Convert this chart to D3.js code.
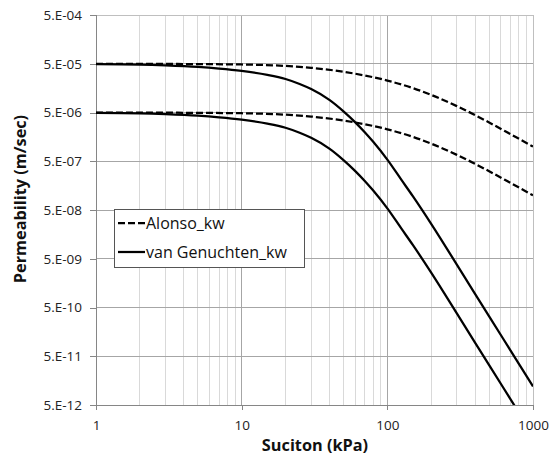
<!DOCTYPE html>
<html><head><meta charset="utf-8">
<script src="https://cdn.jsdelivr.net/npm/d3@7"></script>
<style>body{margin:0;background:#fff}svg{display:block}</style>
</head><body><svg id="c" width="549" height="461"></svg>
<script>
// ---- data ----
const suctionAlonso = [1, 5, 10, 20, 30, 50, 70, 100, 150, 200, 300, 500, 700, 1000];
const alonsoUpper = [5.0e-5, 4.92e-5, 4.83e-5, 4.51e-5, 4.13e-5, 3.42e-5, 2.87e-5, 2.26e-5, 1.58e-5, 1.15e-5, 6.76e-6, 3.12e-6, 1.8e-6, 1.0e-6];
const alonsoLower = [5.0e-6, 4.92e-6, 4.83e-6, 4.51e-6, 4.13e-6, 3.42e-6, 2.87e-6, 2.26e-6, 1.58e-6, 1.15e-6, 6.76e-7, 3.12e-7, 1.8e-7, 1.0e-7];
const suctionVG = [1, 2, 3, 5, 7, 10, 15, 20, 25, 30, 40, 50, 60, 70, 80, 100, 125, 150, 200, 300, 400, 500, 700, 1000];
const vgUpper = [4.9e-5, 4.8e-5, 4.63e-5, 4.31e-5, 3.99e-5, 3.57e-5, 2.96e-5, 2.43e-5, 1.92e-5, 1.51e-5, 9.07e-6, 5.28e-6, 3.18e-6, 1.97e-6, 1.25e-6, 5.4e-7, 2.07e-7, 9.5e-8, 2.6e-8, 3.79e-9, 9.5e-10, 3.3e-10, 6.6e-11, 1.2e-11];
const vgLower = [4.9e-6, 4.8e-6, 4.63e-6, 4.31e-6, 3.99e-6, 3.57e-6, 2.96e-6, 2.43e-6, 1.92e-6, 1.51e-6, 9.07e-7, 5.28e-7, 3.18e-7, 1.97e-7, 1.25e-7, 5.4e-8, 2.07e-8, 9.5e-9, 2.6e-9, 3.79e-10, 9.5e-11, 3.3e-11, 6.6e-12, 1.2e-12];
const yTickValues = [5e-12, 5e-11, 5e-10, 5e-9, 5e-8, 5e-7, 5e-6, 5e-5, 5e-4];
const yTickLabels = ["5.E-12", "5.E-11", "5.E-10", "5.E-09", "5.E-08", "5.E-07", "5.E-06", "5.E-05", "5.E-04"];
const xTickValues = [1, 10, 100, 1000];
const xTickLabels = ["1", "10", "100", "1000"];
const legendLabels = ["Alonso_kw", "van Genuchten_kw"];
const xTitle = "Suciton (kPa)";
const yTitle = "Permeability (m/sec)";

// ---- layout ----
const L = 96, R = 533, T = 15, B = 405;
const svg = d3.select("#c");
const x = d3.scaleLog().domain([1, 1000]).range([L, R]);
const y = d3.scaleLog().domain([5e-12, 5e-4]).range([B, T]);
const font = "'Open Sans', Lato, sans-serif";

// minor vertical grid
const minor = [];
[1, 10, 100].forEach(d => { for (let i = 2; i <= 9; i++) minor.push(d * i); });
svg.append("g").selectAll("line").data(minor).join("line")
  .attr("x1", d => x(d)).attr("x2", d => x(d)).attr("y1", T).attr("y2", B)
  .attr("stroke", "#d9d9d9").attr("stroke-width", 1).attr("shape-rendering", "crispEdges");
// major vertical grid
svg.append("g").selectAll("line").data(xTickValues).join("line")
  .attr("x1", d => x(d)).attr("x2", d => x(d)).attr("y1", T).attr("y2", B)
  .attr("stroke", "#a6a6a6").attr("stroke-width", 1).attr("shape-rendering", "crispEdges");
// horizontal grid
svg.append("g").selectAll("line").data(yTickValues).join("line")
  .attr("x1", L).attr("x2", R).attr("y1", d => y(d)).attr("y2", d => y(d))
  .attr("stroke", "#a6a6a6").attr("stroke-width", 1).attr("shape-rendering", "crispEdges");
// plot border
svg.append("rect").attr("x", L).attr("y", T).attr("width", R - L).attr("height", B - T)
  .attr("fill", "none").attr("stroke", "#bfbfbf").attr("shape-rendering", "crispEdges");

// axes
const ya = svg.append("g").attr("transform", `translate(${L},0)`)
  .call(d3.axisLeft(y).tickValues(yTickValues).tickFormat((d, i) => yTickLabels[i]).tickSize(6).tickPadding(8));
const xa = svg.append("g").attr("transform", `translate(0,${B})`)
  .call(d3.axisBottom(x).tickValues(xTickValues).tickFormat((d, i) => xTickLabels[i]).tickSize(5).tickPadding(10));
[ya, xa].forEach(g => {
  g.select(".domain").attr("stroke", "#868686").attr("shape-rendering", "crispEdges");
  g.selectAll(".tick line").attr("stroke", "#868686").attr("shape-rendering", "crispEdges");
  g.selectAll(".tick text").attr("font-family", font).attr("font-size", 13.5).attr("fill", "#222");
});

// clip
svg.append("clipPath").attr("id", "clip").append("rect")
  .attr("x", L).attr("y", T).attr("width", R - L).attr("height", B - T);

const line = d3.line().x(d => x(d[0])).y(d => y(d[1])).curve(d3.curveMonotoneX);
const plot = svg.append("g").attr("clip-path", "url(#clip)");
[alonsoUpper, alonsoLower].forEach(s => {
  plot.append("path").datum(suctionAlonso.map((v, i) => [v, s[i]]))
    .attr("d", line).attr("fill", "none").attr("stroke", "#000").attr("stroke-width", 2.25)
    .attr("stroke-dasharray", "7,3");
});
[vgUpper, vgLower].forEach(s => {
  plot.append("path").datum(suctionVG.map((v, i) => [v, s[i]]))
    .attr("d", line).attr("fill", "none").attr("stroke", "#000").attr("stroke-width", 2.25);
});

// titles
svg.append("text").attr("x", 315).attr("y", 451).attr("text-anchor", "middle")
  .attr("font-family", font).attr("font-weight", "bold").attr("font-size", 16.3).attr("fill", "#111").text(xTitle);
svg.append("text").attr("transform", "translate(26,199) rotate(-90)").attr("text-anchor", "middle")
  .attr("font-family", font).attr("font-weight", "bold").attr("font-size", 16.3).attr("fill", "#111").text(yTitle);

// legend
const lg = svg.append("g");
lg.append("rect").attr("x", 114.5).attr("y", 209.5).attr("width", 190).attr("height", 58)
  .attr("fill", "#fff").attr("stroke", "#555").attr("stroke-width", 1);
const rows = [{ y: 223, dash: "7,3" }, { y: 252, dash: null }];
rows.forEach((r, i) => {
  const l = lg.append("line").attr("x1", 118).attr("x2", 145).attr("y1", r.y).attr("y2", r.y)
    .attr("stroke", "#000").attr("stroke-width", 2.25);
  if (r.dash) l.attr("stroke-dasharray", r.dash);
  lg.append("text").attr("x", 146).attr("y", r.y + 5.5).attr("font-family", font).attr("font-size", 16)
    .attr("fill", "#111").text(legendLabels[i]);
});
</script>
</body></html>
